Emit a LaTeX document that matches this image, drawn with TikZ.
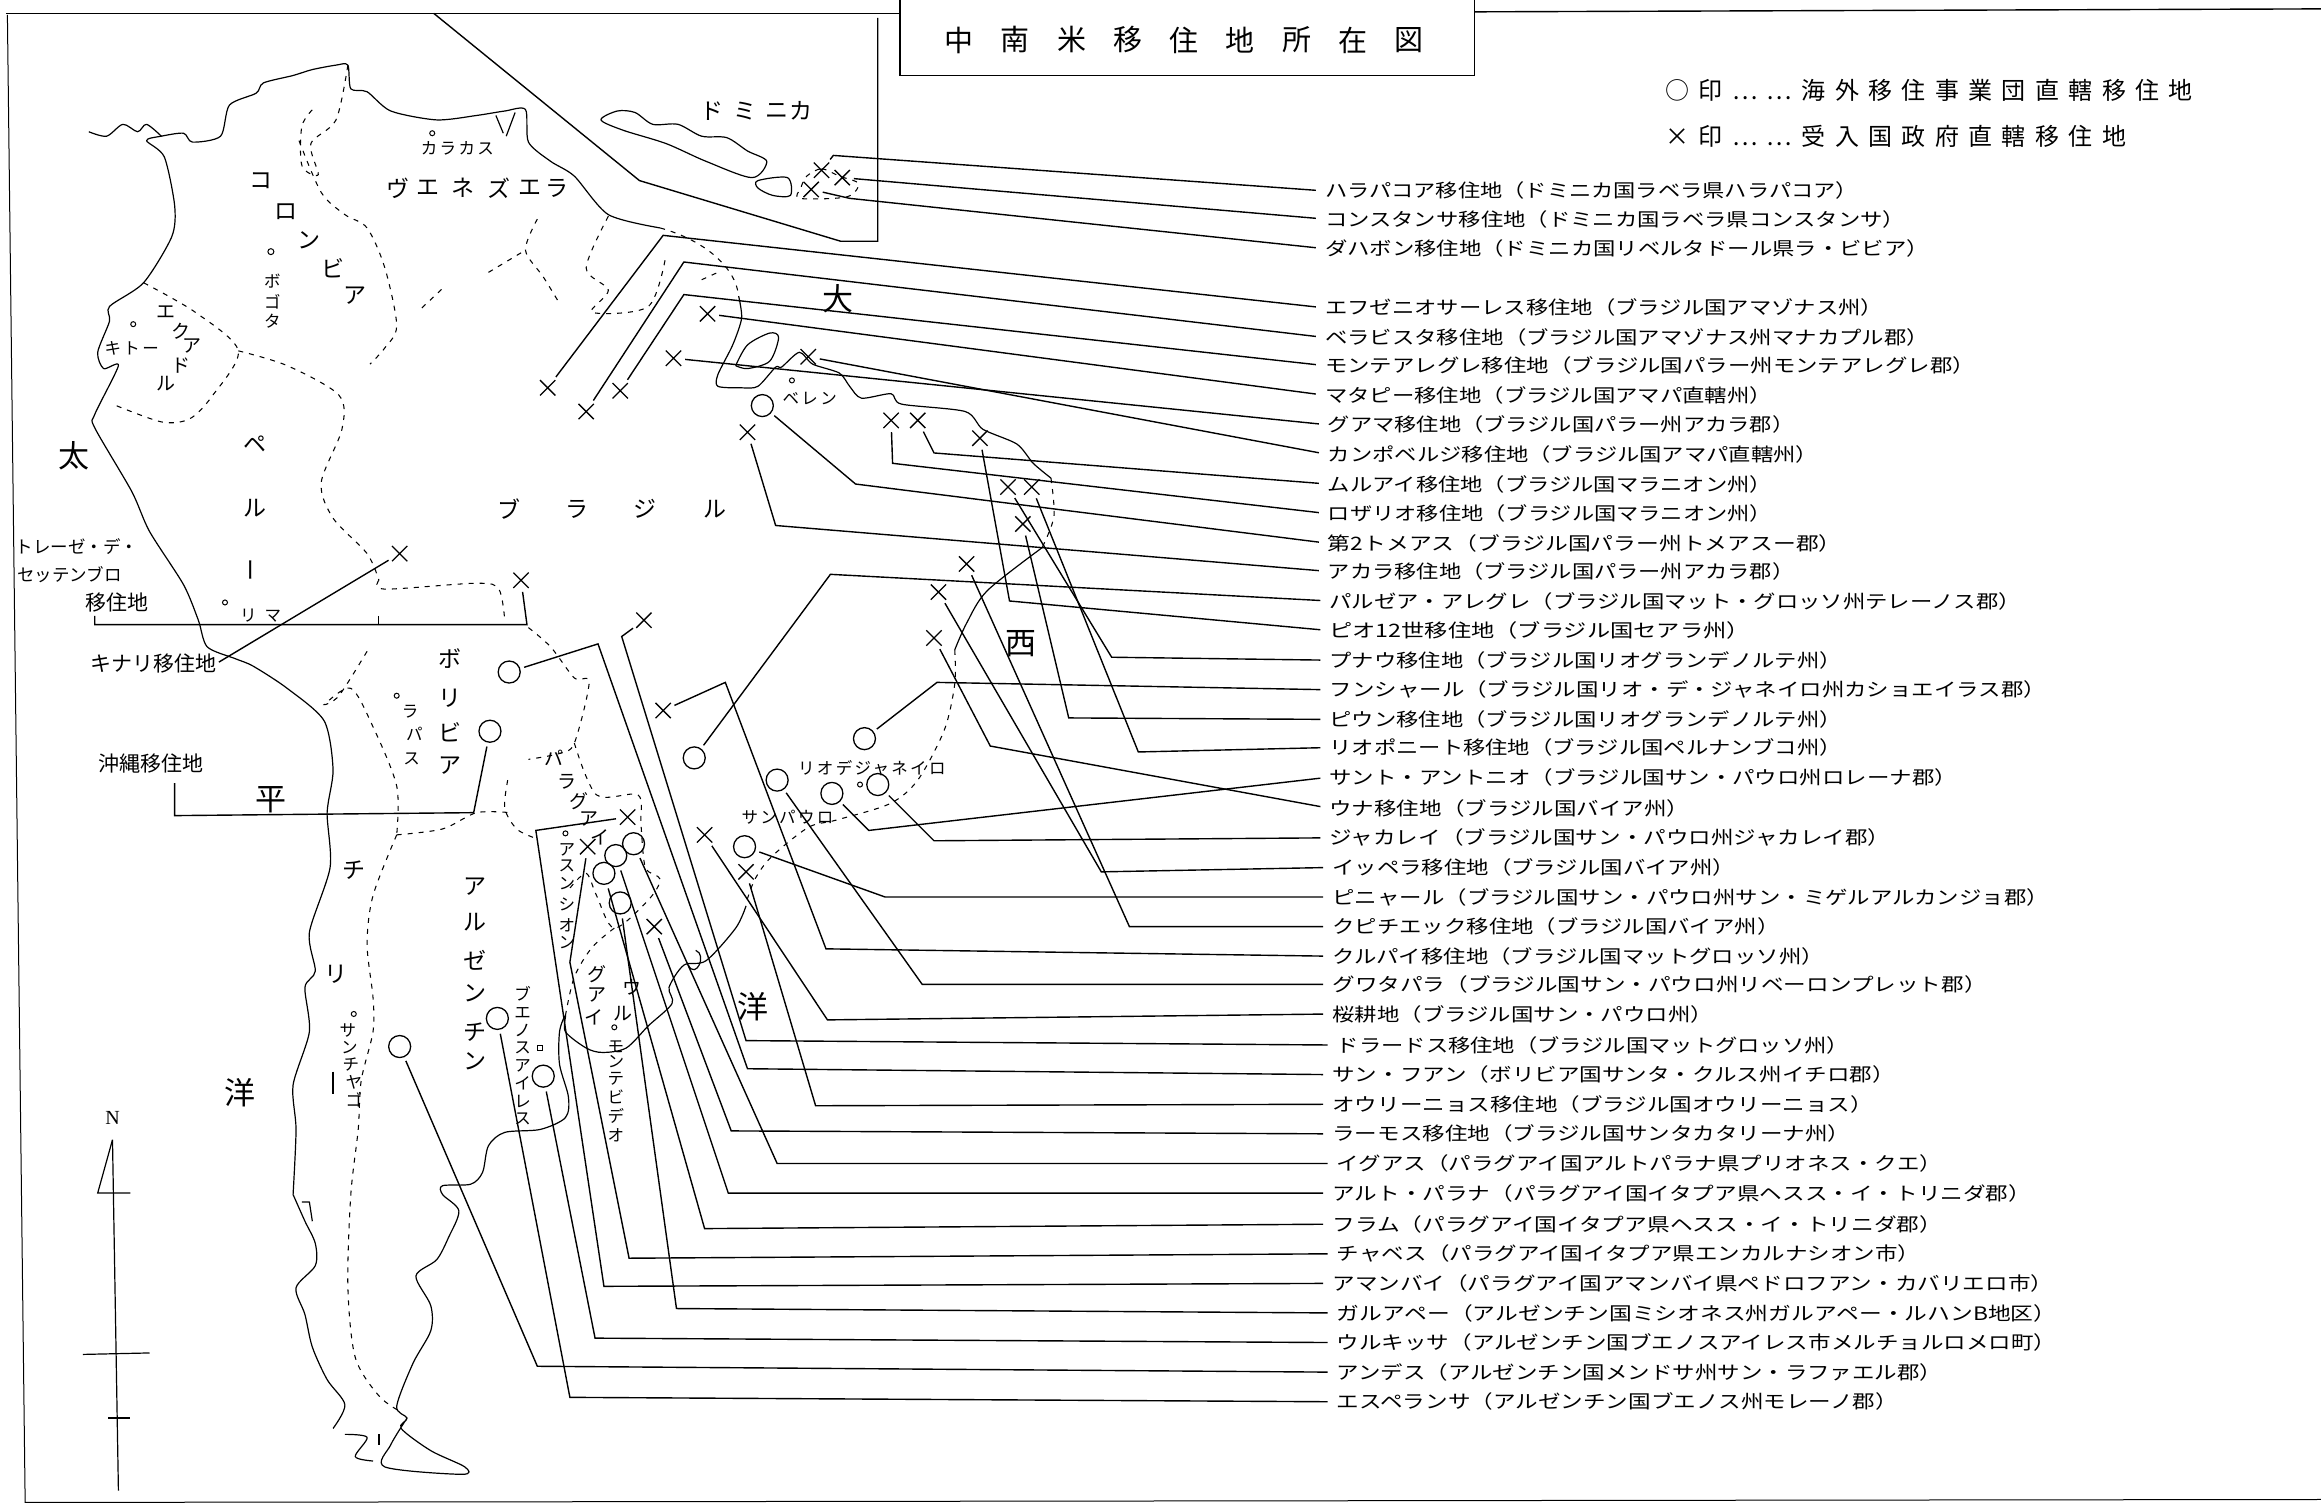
\documentclass[tikz,border=0pt]{standalone}
\usepackage{fontspec}
\usepackage{graphicx}
\setmainfont{Noto Sans CJK JP}
\newfontfamily\spfont[LetterSpace=39]{Noto Sans CJK JP}
\newfontfamily\spb[LetterSpace=14]{Noto Sans CJK JP}
\newfontfamily\serifN{Liberation Serif}
\usetikzlibrary{shapes.misc}
\tikzset{
  xmark/.style={cross out,draw,line width=1.3pt,minimum size=14pt,inner sep=0pt},
  omark/.style={circle,draw,line width=1.3pt,minimum size=22pt,inner sep=0pt},
  cityo/.style={circle,draw,line width=1pt,minimum size=6pt,inner sep=0pt},
  conn/.style={line width=1.4pt,line join=miter,shorten <=4pt,shorten >=9pt},
  wire/.style={line width=1.4pt},
  coast/.style={line width=1.2pt,line join=round},
  bord/.style={line width=1.05pt,dash pattern=on 5pt off 6pt},
  lbl/.style={anchor=west,inner sep=0pt,font=\fontsize{18.5}{18.5}\selectfont},
  big/.style={inner sep=0pt,font=\fontsize{31}{31}\selectfont},
  ttl/.style={inner sep=0pt,font=\fontsize{29}{29}\selectfont},
  cname/.style={inner sep=0pt,font=\fontsize{23}{23}\selectfont},
  cnarrow/.style={inner sep=0pt,font=\fontsize{19}{19}\selectfont},
  town/.style={inner sep=0pt,font=\fontsize{16.5}{16.5}\spb},
  side/.style={inner sep=0pt,font=\fontsize{21}{21}\selectfont},
  sidesm/.style={inner sep=0pt,font=\fontsize{17.5}{17.5}\selectfont},
}
\newcommand\lab[5]{\pgfmathsetlengthmacro\labw{(#4-#3+7)*1.4802pt}\node[lbl] (#1) at (#3,#2) {\resizebox{\labw}{\height}{#5}};}
\begin{document}
\begin{tikzpicture}[x=1.4802pt,y=-1.4802pt]
\useasboundingbox (0,0) rectangle (1568,1016);
% sheet frame
\draw[wire] (4,9) -- (608,9);
\draw[wire] (996,8) -- (1568,6);
\draw[line width=1pt] (5,10) -- (17,1015) -- (1568,1013);
% title box
\draw[wire] (608,0) -- (608,51) -- (996,51) -- (996,0);
\foreach \c/\x [count=\i] in {中/648,南/686,米/724,移/762,住/800,地/838,所/876,在/914,図/952}
  \node[ttl] (title\i) at (\x,27) {\c};
% legend
\node[inner sep=0pt,anchor=west,font=\fontsize{24}{24}\spfont] (leg1) at (1125,61) {○印……海外移住事業団直轄移住地};
\node[inner sep=0pt,anchor=west,font=\fontsize{24}{24}\spfont] (leg2) at (1125,92) {×印……受入国政府直轄移住地};
% inset frame
\draw[wire] (293,9) -- (432,122) -- (568,163) -- (593,163) -- (593,12);
% Dominican islands
\draw[coast] plot[smooth cycle,tension=.5] coordinates {(406,81)(417,75)(429,76)(441,84)(458,84)(474,92)(491,93)(505,102)(518,109)(508,120)(477,109)(450,97)(421,88)};
\draw[coast] plot[smooth cycle,tension=.5] coordinates {(512,122)(532,120)(534,132)(522,132)(512,127)};
\draw[bord] plot[smooth cycle,tension=.5] coordinates {(545,119)(555,114)(567,119)(580,124)(572,133)(540,134)(541,127)};
% continent coast: west and north
\draw[coast] plot[smooth,tension=.45] coordinates {(198,807)(200,763)(198,733)(209,697)(206,667)(213,656)(209,630)(223,586)(221,549)(225,520)(219,487)(194,465)(171,450)(159,445)(140,437)(134,419)(124,395)(101,359)(89,332)(64,289)(64,280)(80,247)(70,249)(66,238)(74,217)(74,207)(97,191)(116,160)(118,139)(111,106)(99,95)(109,92)(124,90)(130,96)(149,92)(155,71)(173,63)(178,56)(198,51)(211,47)(227,44)(235,44)(237,60)(248,62)(264,75)(295,81)(322,78)(341,75)(355,74)(357,96)(372,109)(388,119)(411,145)(446,154)};
\draw[coast] plot[smooth,tension=.5] coordinates {(60,89)(72,92)(83,84)(93,89)(99,84)(109,92)};
\draw[bord] (446,154) .. controls (475,162) and (497,180) .. (499,200);
\draw[coast] plot[smooth,tension=.45] coordinates {(499,200)(501,215)(495,233)(485,253)(485,261)(501,262)(512,261)(524,248)(528,248)(540,238)(549,246)(567,252)(574,261)(582,269)(602,266)(609,273)(652,278)(664,290)(687,300)(698,313)(710,323)};
\draw[bord] plot[smooth,tension=.5] coordinates {(710,323)(712,349)(704,370)};
\draw[coast] plot[smooth,tension=.5] coordinates {(704,370)(667,399)(653,421)(645,439)};
\draw[bord] plot[smooth,tension=.5] coordinates {(645,439)(645,462)(638,493)(620,527)(601,543)(565,554)(546,559)(521,579)(510,594)(504,610)};
\draw[coast] plot[smooth,tension=.5] coordinates {(504,612)(497,627)(477,649)(462,652)(452,667)(454,678)(438,693)(423,708)(407,711)(396,708)(382,697)(382,686)(378,697)(378,719)(384,741)(382,755)(365,763)(341,765)(330,774)(326,792)(318,800)(299,801)(299,807)(310,818)(303,836)(295,851)(281,862)(291,882)(291,899)(279,921)(268,950)(275,958)(271,965)(291,980)(314,991)(312,996)(260,991)(264,976)(275,958)};
\draw[coast] plot[smooth,tension=.5] coordinates {(198,807)(206,825)(213,840)(213,855)(200,870)(206,888)(211,910)(221,932)(233,949)(225,965)};
\draw[coast] plot[smooth,tension=.5] coordinates {(233,969)(248,971)(240,984)(252,987)};
\draw[coast] (256,969) -- (256,976);
\draw[coast] (204,812) -- (209,812) -- (211,825);
% lakes and estuaries
\draw[coast] plot[smooth,tension=.5] coordinates {(497,247)(505,233)(520,225)(526,228)(520,244)(505,249)(497,247)};
\draw[bord] plot[smooth,tension=.5] coordinates {(235,44)(227,81)(210,97)(215,118)(204,112)(204,85)(213,72)};
\draw[coast] (465,652) .. controls (470,662) and (478,645) .. (470,642);
\draw[coast] (335,78) -- (340,90);
\draw[coast] (348,76) -- (342,92);
% international borders
\draw[bord] plot[smooth,tension=.5] coordinates {(202,95)(217,130)(233,145)(248,154)(260,181)(268,220)(260,235)(250,246)};
\draw[bord] plot[smooth,tension=.5] coordinates {(161,237)(194,247)(229,267)(231,290)(217,326)(225,350)(248,374)(256,392)};
\draw[bord] plot[smooth,tension=.5] coordinates {(97,191)(132,211)(161,237)(143,268)(128,283)(109,285)(76,273)};
\draw[bord] plot[smooth,tension=.5] coordinates {(363,148)(355,169)(367,187)(378,205)};
\draw[bord] (285,208) -- (301,193) (330,184) -- (355,169);
\draw[bord] plot[smooth,tension=.5] coordinates {(411,146)(396,181)(411,196)(400,211)(438,207)(450,172)};
\draw[bord] (474,189) -- (485,184);
\draw[bord] plot[smooth,tension=.5] coordinates {(256,392)(260,398)(322,394)(337,398)(341,419)};
\draw[bord] plot[smooth,tension=.5] coordinates {(357,424)(372,437)(388,458)(398,461)(388,502)(378,509)(357,513)};
\draw[bord] plot[smooth,tension=.5] coordinates {(248,440)(229,470)(219,476)(237,465)(252,491)(268,531)(268,564)};
\draw[bord] plot[smooth,tension=.5] coordinates {(268,564)(299,560)(322,549)(345,549)};
\draw[bord] plot[smooth,tension=.5] coordinates {(343,527)(341,546)(349,560)(361,566)};
\draw[bord] plot[smooth,tension=.5] coordinates {(388,502)(403,537)(431,537)(433,557)(436,586)(446,594)(438,608)(415,627)(403,605)(396,590)(385,600)};
\draw[bord] plot[smooth,tension=.5] coordinates {(268,564)(252,605)(248,638)(252,674)(252,697)(244,730)(242,763)(237,807)(235,869)(240,917)(256,943)(271,954)};
\draw[bord] plot[smooth,tension=.5] coordinates {(415,627)(400,640)(388,660)(382,686)};
\draw[line width=1pt] (256,416) -- (256,422);
\draw[line width=1.2pt] (225,724) -- (225,739);
% country and sea names
\foreach \c/\x/\y [count=\i] in {太/50/308,平/183/540,洋/162/738,大/566/202,西/690/435,洋/509/680}
  \node[big] (sea\i) at (\x,\y) {\c};
\foreach \c/\x/\y [count=\i] in {ド/481/75,ミ/503/75,ニ/525/75,カ/541/75}
  \node[cname] (dom\i) at (\x,\y) {\c};
\foreach \c/\x/\y [count=\i] in {ヴ/269/127,エ/289/127,ネ/313/127,ズ/337/127,エ/358/127,ラ/376/127}
  \node[cname] (ven\i) at (\x,\y) {\c};
\foreach \c/\x/\y [count=\i] in {コ/176/122,ロ/193/143,ン/209/162,ビ/225/181,ア/240/200}
  \node[cname] (col\i) at (\x,\y) {\c};
\foreach \c/\x/\y [count=\i] in {エ/112/211,ク/122/224,ア/130/234,ド/122/247,ル/112/259}
  \node[cnarrow] (ecu\i) at (\x,\y) {\c};
\node[cname] (per1) at (172,300) {ペ};
\node[cname] (per2) at (172,343) {ル};
\node[cname,rotate=90] (per3) at (172,385) {ー};
\foreach \c/\x [count=\i] in {ブ/344,ラ/390,ジ/436,ル/483}
  \node[cname] (bra\i) at (\x,344) {\c};
\node[cname] (bol1) at (304,445) {ボ};
\node[cname] (bol2) at (304,472) {リ};
\node[cname] (bol3) at (304,495) {ビ};
\node[cname] (bol4) at (304,517) {ア};
\foreach \c/\x/\y [count=\i] in {パ/374/512,ラ/383/528,グ/391/541,ア/398/553,イ/405/566}
  \node[cnarrow] (par\i) at (\x,\y) {\c};
\foreach \c/\y [count=\i] in {ア/599,ル/623,ゼ/649,ン/671,チ/697,ン/717}
  \node[cname] (arg\i) at (321,\y) {\c};
\node[cname] (chi1) at (239,588) {チ};
\node[cname] (chi2) at (227,658) {リ};
\node[cnarrow] (uru1) at (427,667) {ウ};
\node[cnarrow] (uru2) at (421,685) {ル};
\node[cnarrow] (uru3) at (403,658) {グ};
\node[cnarrow] (uru4) at (403,672) {ア};
\node[cnarrow] (uru5) at (401,687) {イ};
% towns
\node[cityo,minimum size=5pt] (c1) at (292,90) {};
\node[town] (t1) at (309,100) {カラカス};
\node[cityo] (c2) at (183,170) {};
\foreach \c/\y [count=\i] in {ボ/190,ゴ/204,タ/217}
  \node[town] (bog\i) at (184,\y) {\c};
\node[cityo,minimum size=5pt] (c3) at (90,219) {};
\node[town] (t2) at (89,235) {キトー};
\node[cityo,minimum size=5pt] (c4) at (152,407) {};
\node[town] (t3) at (176,416) {リ\hspace{8pt}マ};
\node[cityo,minimum size=5pt] (c5) at (268,470) {};
\foreach \c/\x/\y [count=\i] in {ラ/277/481,パ/280/496,ス/278/513}
  \node[town] (laz\i) at (\x,\y) {\c};
\node[cityo,minimum size=5pt] (c6) at (382,563) {};
\foreach \c/\y [count=\i] in {ア/574,ス/585,ン/597,シ/611,オ/625,ン/637}
  \node[town] (asu\i) at (383,\y) {\c};
\node[cityo,minimum size=5pt] (c7) at (239,685) {};
\foreach \c/\x/\y [count=\i] in {サ/235/696,ン/236/708,チ/237/719,ヤ/239/731,ゴ/239/743}
  \node[town] (sch\i) at (\x,\y) {\c};
\foreach \c/\y [count=\i] in {ブ/671,エ/684,ノ/696,ス/708,ア/720,イ/732,レ/744,ス/756}
  \node[town] (bue\i) at (353,\y) {\c};
\node[draw,line width=1pt,minimum size=5pt,inner sep=0pt] (c8) at (365,708) {};
\node[cityo,minimum size=5pt] (c9) at (415,694) {};
\foreach \c/\y [count=\i] in {モ/707,ン/717,テ/729,ビ/741,デ/754,オ/767}
  \node[town] (mon\i) at (416,\y) {\c};
\node[town] (t4) at (589,519) {リオデジャネイロ};
\node[cityo,minimum size=5pt] (c10) at (581,530) {};
\node[town] (t5) at (532,552) {サンパウロ};
\node[cityo,minimum size=5pt] (c11) at (535,257) {};
\node[town] (t6) at (547,269) {ベレン};
% side labels
\node[sidesm] (s1) at (52,369) {トレーゼ・デ・};
\node[sidesm] (s2) at (47,388) {セッテンブロ};
\node[side] (s3) at (79,407) {移住地};
\node[side] (s4) at (104,448) {キナリ移住地};
\node[side] (s5) at (102,516) {沖縄移住地};
% list
\lab{L1}{129}{895}{1248}{ハラパコア移住地（ドミニカ国ラベラ県ハラパコア）}
\lab{L2}{148}{895}{1280}{コンスタンサ移住地（ドミニカ国ラベラ県コンスタンサ）}
\lab{L3}{168}{895}{1296}{ダハボン移住地（ドミニカ国リベルタドール県ラ・ビビア）}
\lab{L4}{208}{895}{1265}{エフゼニオサーレス移住地（ブラジル国アマゾナス州）}
\lab{L5}{228}{895}{1296}{ベラビスタ移住地（ブラジル国アマゾナス州マナカプル郡）}
\lab{L6}{247}{895}{1327}{モンテアレグレ移住地（ブラジル国パラー州モンテアレグレ郡）}
\lab{L7}{267}{895}{1190}{マタピー移住地（ブラジル国アマパ直轄州）}
\lab{L8}{287}{897}{1205}{グアマ移住地（ブラジル国パラー州アカラ郡）}
\lab{L9}{307}{897}{1221}{カンポベルジ移住地（ブラジル国アマパ直轄州）}
\lab{L10}{327}{897}{1190}{ムルアイ移住地（ブラジル国マラニオン州）}
\lab{L11}{347}{897}{1190}{ロザリオ移住地（ブラジル国マラニオン州）}
\lab{L12}{367}{897}{1237}{第2トメアス（ブラジル国パラー州トメアスー郡）}
\lab{L13}{386}{897}{1205}{アカラ移住地（ブラジル国パラー州アカラ郡）}
\lab{L14}{406}{898}{1358}{パルゼア・アレグレ（ブラジル国マット・グロッソ州テレーノス郡）}
\lab{L15}{426}{898}{1175}{ピオ12世移住地（ブラジル国セアラ州）}
\lab{L16}{446}{898}{1237}{プナウ移住地（ブラジル国リオグランデノルテ州）}
\lab{L17}{466}{898}{1375}{フンシャール（ブラジル国リオ・デ・ジャネイロ州カショエイラス郡）}
\lab{L18}{486}{898}{1237}{ピウン移住地（ブラジル国リオグランデノルテ州）}
\lab{L19}{505}{898}{1237}{リオポニート移住地（ブラジル国ペルナンブコ州）}
\lab{L20}{525}{898}{1315}{サント・アントニオ（ブラジル国サン・パウロ州ロレーナ郡）}
\lab{L21}{546}{898}{1134}{ウナ移住地（ブラジル国バイア州）}
\lab{L22}{566}{898}{1270}{ジャカレイ（ブラジル国サン・パウロ州ジャカレイ郡）}
\lab{L23}{586}{900}{1165}{イッペラ移住地（ブラジル国バイア州）}
\lab{L24}{606}{900}{1377}{ピニャール（ブラジル国サン・パウロ州サン・ミゲルアルカンジョ郡）}
\lab{L25}{626}{900}{1195}{クピチエック移住地（ブラジル国バイア州）}
\lab{L26}{646}{900}{1225}{クルパイ移住地（ブラジル国マットグロッソ州）}
\lab{L27}{665}{900}{1335}{グワタパラ（ブラジル国サン・パウロ州リベーロンプレット郡）}
\lab{L28}{685}{900}{1150}{桜耕地（ブラジル国サン・パウロ州）}
\lab{L29}{706}{903}{1242}{ドラードス移住地（ブラジル国マットグロッソ州）}
\lab{L30}{726}{900}{1273}{サン・フアン（ボリビア国サンタ・クルス州イチロ郡）}
\lab{L31}{746}{900}{1258}{オウリーニョス移住地（ブラジル国オウリーニョス）}
\lab{L32}{766}{900}{1243}{ラーモス移住地（ブラジル国サンタカタリーナ州）}
\lab{L33}{786}{903}{1305}{イグアス（パラグアイ国アルトパラナ県プリオネス・クエ）}
\lab{L34}{806}{900}{1365}{アルト・パラナ（パラグアイ国イタプア県ヘスス・イ・トリニダ郡）}
\lab{L35}{827}{900}{1305}{フラム（パラグアイ国イタプア県ヘスス・イ・トリニダ郡）}
\lab{L36}{847}{903}{1290}{チャベス（パラグアイ国イタプア県エンカルナシオン市）}
\lab{L37}{867}{900}{1380}{アマンバイ（パラグアイ国アマンバイ県ペドロフアン・カバリエロ市）}
\lab{L38}{887}{903}{1382}{ガルアペー（アルゼンチン国ミシオネス州ガルアペー・ルハンB地区）}
\lab{L39}{907}{903}{1382}{ウルキッサ（アルゼンチン国ブエノスアイレス市メルチョルロメロ町）}
\lab{L40}{927}{903}{1305}{アンデス（アルゼンチン国メンドサ州サン・ラファエル郡）}
\lab{L41}{947}{903}{1275}{エスペランサ（アルゼンチン国ブエノス州モレーノ郡）}
% markers: crosses
\foreach \n/\x/\y in {1/555/115,2/569/120,3/548/128,4/370/262,5/396/278,6/419/264,7/478/212,8/455/242,9/546/241,10/620/284,11/602/284,13/505/292,15/662/296,16/681/329,19/697/329,18/691/354,21/631/431,23/634/400,25/653/381,26/448/480,28/476/564,29/435/419,31/504/589,32/442/626,36/397/572,37/424/552,A/352/392,B/270/374}
  \node[xmark] (m\n) at (\x,\y) {};
% markers: circles
\foreach \n/\x/\y in {12/515/274,14/469/512,17/584/499,27/525/527,20/562/536,22/593/530,24/503/572,33/428/570,34/416/578,35/408/590,38/419/610,30/344/454,C/331/494,41/336/688,39/367/727,40/270/707}
  \node[omark] (m\n) at (\x,\y) {};
% connectors
\draw[conn] (m1) -- (563,105) -- (L1.west);
\draw[conn] (m2) -- (L2.west);
\draw[conn] (m3) -- (574,134) -- (L3.west);
\draw[conn] (m4) -- (448,159) -- (L4.west);
\draw[conn] (m5) -- (462,177) -- (L5.west);
\draw[conn] (m6) -- (462,199) -- (L6.west);
\draw[conn] (m7) -- (L7.west);
\draw[conn] (m8) -- (L8.west);
\draw[conn] (m9) -- (L9.west);
\draw[conn] (m10) -- (631,306) -- (L10.west);
\draw[conn] (m11) -- (603,313) -- (L11.west);
\draw[conn] (m12) -- (578,327) -- (L12.west);
\draw[conn] (m13) -- (524,355) -- (L13.west);
\draw[conn] (m14) -- (561,388) -- (L14.west);
\draw[conn] (m15) -- (682,406) -- (L15.west);
\draw[conn] (m16) -- (751,444) -- (L16.west);
\draw[conn] (m17) -- (633,461) -- (L17.west);
\draw[conn] (m18) -- (722,485) -- (L18.west);
\draw[conn] (m19) -- (769,508) -- (L19.west);
\draw[conn] (m20) -- (587,561) -- (L20.west);
\draw[conn] (m21) -- (669,504) -- (L21.west);
\draw[conn] (m22) -- (631,568) -- (L22.west);
\draw[conn] (m23) -- (744,589) -- (L23.west);
\draw[conn] (m24) -- (598,606) -- (L24.west);
\draw[conn] (m25) -- (763,626) -- (L25.west);
\draw[conn] (m26) -- (490,461) -- (558,641) -- (L26.west);
\draw[conn] (m27) -- (623,665) -- (L27.west);
\draw[conn] (m28) -- (559,689) -- (L28.west);
\draw[conn] (m29) -- (420,430) -- (504,703) -- (L29.west);
\draw[conn] (m30) -- (404,435) -- (505,722) -- (L30.west);
\draw[conn] (m31) -- (551,747) -- (L31.west);
\draw[conn] (m32) -- (494,764) -- (L32.west);
\draw[conn] (m33) -- (525,786) -- (L33.west);
\draw[conn] (m34) -- (492,806) -- (L34.west);
\draw[conn] (m35) -- (476,830) -- (L35.west);
\draw[conn] (m36) -- (385,650) -- (425,850) -- (L36.west);
\draw[conn] (m37) -- (362,561) -- (408,869) -- (L37.west);
\draw[conn] (m38) -- (457,884) -- (L38.west);
\draw[conn] (m39) -- (402,904) -- (L39.west);
\draw[conn] (m40) -- (363,923) -- (L40.west);
\draw[conn] (m41) -- (385,944) -- (L41.west);
\coordinate (freeA) at (64,416);
\coordinate (freeC) at (118,529);
\draw[conn,shorten >=0pt] (mA) -- (356,422) -- (64,422) -- (freeA);
\draw[conn,shorten >=2pt] (mB) -- (s4.east);
\draw[conn,shorten >=0pt] (mC) -- (320,549) -- (118,551) -- (freeC);
% north arrow
\node[inner sep=0pt,font=\fontsize{20}{20}\serifN] (north) at (76,755) {N};
\draw[line width=1.2pt] (76,770) -- (66,806) -- (88,806);
\draw[line width=1.2pt] (76,770) -- (80,1007);
\draw[line width=1.2pt] (56,915) -- (101,914);
\draw[line width=1.2pt] (73,958) -- (88,958);
\end{tikzpicture}
\end{document}
